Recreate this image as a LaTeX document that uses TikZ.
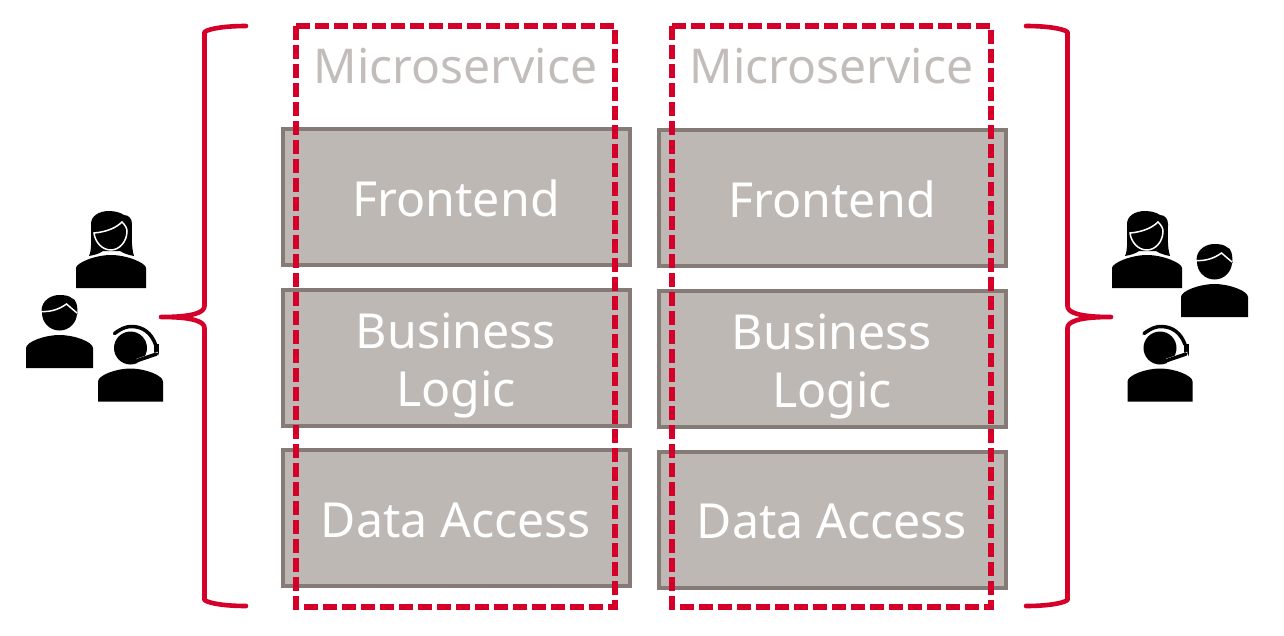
\documentclass[tikz,border=0pt]{standalone}
\usepackage{fontspec}
\setmainfont{Noto Sans}
\usepackage{tikz}
\definecolor{bracered}{HTML}{D4002A}
\definecolor{boxfill}{HTML}{BEB8B5}
\definecolor{boxline}{HTML}{857A76}
\definecolor{titlegray}{HTML}{C2BDBA}
\tikzset{
    layerbox/.style={draw=boxline, fill=boxfill, line width=4pt, minimum width=347pt, minimum height=136pt, inner sep=0pt},
    layertext/.style={text=white, align=center, inner sep=0pt, font=\fontsize{48.3}{58}\selectfont},
    titlelabel/.style={text=titlegray, inner sep=0pt, font=\fontsize{48}{58}\selectfont},
    servicebox/.style={draw=bracered, line width=5.4pt, dash pattern=on 14pt off 5pt},
    bracket/.style={draw=bracered, line width=4.6pt, line cap=round, line join=round},
    personman/.pic={
        \fill[black] (-33.5,0) -- (-33.5,-20) .. controls (-33.5,-26) and (-15,-33) .. (0,-33) .. controls (15,-33) and (33.5,-26) .. (33.5,-20) -- (33.5,0) -- cycle;
        \fill[black] (0,-55) circle (17.5);
        \fill[black] (-18,-57) .. controls (-18,-68) and (-8,-73) .. (0,-73) .. controls (6,-73) and (10,-72) .. (12,-70) .. controls (17,-69) and (18,-62) .. (18,-54) -- cycle;
        \draw[white, line width=1.5pt] (-18,-56.5) .. controls (-8,-56) and (0,-59) .. (7,-64) -- (17.5,-55);
    },
    personwoman/.pic={
        \fill[black] (-35,0) -- (-35,-20) .. controls (-35,-25) and (-16,-33) .. (0,-33) .. controls (16,-33) and (35,-25) .. (35,-20) -- (35,0) -- cycle;
        \fill[black] (-22,-32) .. controls (-19,-38) and (-20,-50) .. (-20,-64) .. controls (-20,-72) and (-12,-77) .. (-2,-77) .. controls (5,-77) and (10,-75) .. (13,-73) .. controls (18,-73) and (21,-69) .. (21,-64) .. controls (21,-52) and (20,-42) .. (23,-32) .. controls (17,-33) and (12,-35) .. (9,-37) -- (-8,-37) .. controls (-12,-34) and (-17,-33) .. (-22,-32) -- cycle;
        \draw[white, fill=black, line width=1.5pt] (-17,-55) .. controls (-5,-56) and (5,-60) .. (11,-66) .. controls (14,-63) and (16,-60) .. (16,-57) .. controls (16,-46) and (8,-38) .. (0,-38) .. controls (-9,-38) and (-16,-46) .. (-17,-55) -- cycle;
    },
    personagent/.pic={
        \fill[black] (-32.5,0) -- (-32.5,-20) .. controls (-32.5,-26) and (-15,-33) .. (0,-33) .. controls (15,-33) and (32.5,-26) .. (32.5,-20) -- (32.5,0) -- cycle;
        \fill[black] (0,-53.5) circle (16.5);
        \draw[black, line width=3.5pt, line cap=round] (-16,-68) .. controls (-8,-74) and (-3,-75) .. (1,-75) .. controls (13,-75) and (21,-68) .. (25,-57);
        \fill[black] (23.5,-58) rectangle (28.5,-46);
        \draw[white, line width=6pt] (28,-47) -- (7,-40);
        \draw[black, line width=3.5pt, line cap=round] (26,-47.5) -- (7,-41);
    }
}

\begin{document}
\begin{tikzpicture}[x=1pt, y=-1pt]

    \useasboundingbox (0,0) rectangle (1284,635);

    % left column
    \node[layerbox] (FrontA) at (456,196.5) {};
    \node[layerbox] (LogicA) at (456,357.5) {};
    \node[layerbox] (DataA) at (456,518) {};
    \node[titlelabel] (TitleA) at (455.5,66) {Microservice};
    \node[layertext] (FrontTextA) at (456,198) {Frontend};
    \node[layertext] (LogicTextA) at (456,365) {Business\\Logic};
    \node[layertext] (DataTextA) at (456,520) {Data Access};
    \draw[servicebox] (296,26) rectangle (615,607);

    % right column
    \node[layerbox] (FrontB) at (832,198) {};
    \node[layerbox] (LogicB) at (832,359) {};
    \node[layerbox] (DataB) at (832,519.5) {};
    \node[titlelabel] (TitleB) at (831.5,66) {Microservice};
    \node[layertext] (FrontTextB) at (832,199.5) {Frontend};
    \node[layertext] (LogicTextB) at (832,366.5) {Business\\Logic};
    \node[layertext] (DataTextB) at (832,521.5) {Data Access};
    \draw[servicebox] (672,26) rectangle (991,607);

    % braces
    \draw[bracket] (246,26) .. controls (228,26) and (210,28) .. (204.5,32) -- (204.5,306) .. controls (204.5,312) and (195,317) .. (161,317) .. controls (195,317) and (204.5,322) .. (204.5,328) -- (204.5,600) .. controls (210,604) and (228,606) .. (246,606);
    \draw[bracket] (1026,26) .. controls (1044,26) and (1062,28) .. (1067.5,32) -- (1067.5,306) .. controls (1067.5,312) and (1077,317) .. (1111,317) .. controls (1077,317) and (1067.5,322) .. (1067.5,328) -- (1067.5,600) .. controls (1062,604) and (1044,606) .. (1026,606);

    % users
    \pic at (111,288) {personwoman};
    \pic at (59.5,368) {personman};
    \pic at (130.5,401.5) {personagent};
    \pic at (1147,288) {personwoman};
    \pic at (1214.5,317) {personman};
    \pic at (1160,401.5) {personagent};

\end{tikzpicture}
\end{document}
